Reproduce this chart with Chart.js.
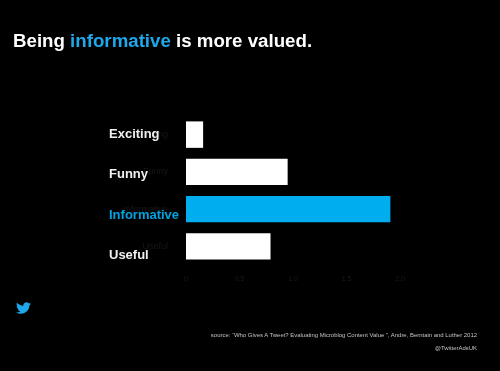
<!DOCTYPE html>
<html>
<head>
<meta charset="utf-8">
<script src="https://cdn.jsdelivr.net/npm/chart.js@4/dist/chart.umd.min.js"></script>
<style>
body { margin: 0; background: #000; width: 500px; height: 371px; overflow: hidden; position: relative; font-family: "Liberation Sans", sans-serif; }
canvas { position: absolute; left: 0; top: 0; }
#title { position: absolute; left: 13px; top: 30px; font-size: 18.7px; font-weight: bold; color: #fff; white-space: nowrap; }
#title span { color: #1ea7ea; }
.note { position: absolute; right: 23px; font-size: 5.95px; color: #c4c4c4; white-space: nowrap; }
#bird { position: absolute; left: 16px; top: 301px; width: 15px; height: 14px; }
</style>
</head>
<body>
<canvas id="myChart" width="500" height="371"></canvas>
<div id="title">Being <span>informative</span> is more valued.</div>
<svg id="bird" viewBox="0 0 24 24" preserveAspectRatio="none"><path fill="#1ea7ea" d="M23.953 4.57a10 10 0 01-2.825.775 4.958 4.958 0 002.163-2.723c-.951.555-2.005.959-3.127 1.184a4.92 4.92 0 00-8.384 4.482C7.69 8.095 4.067 6.13 1.64 3.162a4.822 4.822 0 00-.666 2.475c0 1.71.87 3.213 2.188 4.096a4.904 4.904 0 01-2.228-.616v.06a4.923 4.923 0 003.946 4.827 4.996 4.996 0 01-2.212.085 4.936 4.936 0 004.604 3.417 9.867 9.867 0 01-6.102 2.105c-.39 0-.779-.023-1.17-.067a13.995 13.995 0 007.557 2.209c9.053 0 13.998-7.496 13.998-13.985 0-.21 0-.42-.015-.63A9.935 9.935 0 0024 4.59z"/></svg>
<div class="note" style="top:332px">source: “Who Gives A Tweet? Evaluating Microblog Content Value ”, Andre, Berntain and Luther 2012</div>
<div class="note" style="top:345px">@TwitterAdsUK</div>
<script>
const categories = ['Exciting', 'Funny', 'Informative', 'Useful'];
const values = [0.16, 0.95, 1.91, 0.79];
const barColors = ['#ffffff', '#ffffff', '#00adef', '#ffffff'];
const labelColors = ['#f0f0f0', '#f0f0f0', '#00a3e0', '#f0f0f0'];
const labelNudge = [0, 3, 6, 9];

// the slide has its big labels sitting a bit off the faint axis labels
const bigLabels = {
    id: 'bigLabels',
    afterDraw(chart) {
        const ctx = chart.ctx;
        const y = chart.scales.y;
        ctx.save();
        ctx.font = 'bold 13px "Liberation Sans"';
        ctx.textAlign = 'left';
        ctx.textBaseline = 'middle';
        categories.forEach((name, i) => {
            ctx.fillStyle = labelColors[i];
            ctx.fillText(name, 109, y.getPixelForValue(i) + labelNudge[i]);
        });
        ctx.restore();
    }
};

const ctx = document.getElementById('myChart').getContext('2d');
new Chart(ctx, {
    type: 'bar',
    data: {
        labels: categories,
        datasets: [{
            data: values,
            backgroundColor: barColors,
            barPercentage: 0.71,
            categoryPercentage: 1
        }]
    },
    options: {
        indexAxis: 'y',
        responsive: false,
        animation: false,
        layout: { padding: { top: 116, right: 100, bottom: 86, left: 0 } },
        plugins: { legend: { display: false }, tooltip: { enabled: false } },
        scales: {
            x: {
                min: 0,
                max: 2,
                grid: { display: false },
                border: { display: false },
                afterFit(scale) { scale.height = 20; },
                ticks: { stepSize: 0.5, color: '#1a1a1a', font: { size: 7, family: 'Liberation Sans' }, maxRotation: 0, padding: 2 }
            },
            y: {
                grid: { display: false },
                border: { display: false },
                afterFit(scale) { scale.width = 186; },
                ticks: { color: '#161616', font: { size: 9, family: 'Liberation Sans' }, padding: 10 }
            }
        }
    },
    plugins: [bigLabels]
});
</script>
</body>
</html>
